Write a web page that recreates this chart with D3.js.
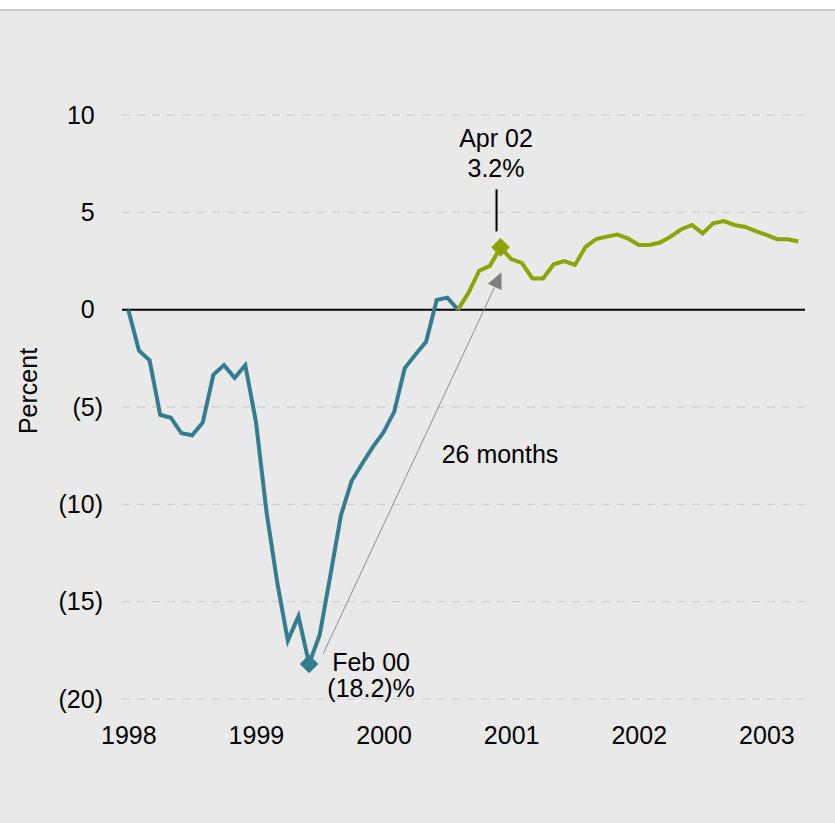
<!DOCTYPE html>
<html>
<head>
<meta charset="utf-8">
<script src="https://cdn.jsdelivr.net/npm/d3@7/dist/d3.min.js"></script>
<style>
  html, body { margin: 0; padding: 0; background: #ffffff; }
  svg { display: block; font-family: "Liberation Sans", Arial, sans-serif; }
</style>
</head>
<body>
<svg id="chart" width="835" height="823"></svg>
<script>
// Monthly change, percent. Index 0 is the first month on the axis.
const declineSeries = [
  0, -2.1, -2.6, -5.4, -5.55, -6.35, -6.45, -5.8, -3.35, -2.85,
  -3.5, -2.85, -5.75, -10.4, -14.0, -17.0, -15.75, -18.2, -16.7, -13.65,
  -10.55, -8.8, -7.9, -7.05, -6.3, -5.25, -3.0, -2.3, -1.65, 0.5,
  0.62, 0
];
const recoveryStart = 31;
const recoverySeries = [
  0, 0.88, 2.0, 2.25, 3.2, 2.6, 2.4, 1.6, 1.6, 2.33,
  2.5, 2.3, 3.23, 3.63, 3.75, 3.86, 3.65, 3.32, 3.32, 3.45,
  3.75, 4.13, 4.35, 3.92, 4.44, 4.55, 4.35, 4.25, 4.04, 3.84,
  3.62, 3.62, 3.5
];
const xTickIndex = [0, 12, 24, 36, 48, 60];
const xTickLabels = ["1998", "1999", "2000", "2001", "2002", "2003"];
const yTicks = [10, 5, 0, -5, -10, -15, -20];
const yTitle = "Percent";
const troughPoint = { index: 17, value: -18.2, lines: ["Feb 00", "(18.2)%"] };
const peakPoint = { index: 35, value: 3.2, lines: ["Apr 02", "3.2%"] };
const spanLabel = "26 months";

const teal = "#347d8f";
const olive = "#8fa300";
const fontSize = 25;

const svg = d3.select("#chart");
const W = 835, H = 823;

// panel background with a thin rule along the top
svg.append("rect").attr("x", 0).attr("y", 0).attr("width", W).attr("height", H).attr("fill", "#ffffff");
svg.append("rect").attr("x", 0).attr("y", 10).attr("width", W).attr("height", H - 10).attr("fill", "#e9e9e9");
svg.append("rect").attr("x", 0).attr("y", 9).attr("width", W).attr("height", 2).attr("fill", "#cbcbcb");

const lastIndex = recoveryStart + recoverySeries.length - 1;
const x = d3.scaleLinear().domain([0, lastIndex]).range([128.3, 798.3]);
const y = d3.scaleLinear().domain([-20, 10]).range([699, 115]);
const gridX0 = 122, gridX1 = 805;

// horizontal gridlines
svg.append("g")
  .selectAll("line")
  .data(yTicks.filter(v => v !== 0))
  .join("line")
  .attr("x1", gridX0).attr("x2", gridX1)
  .attr("y1", d => y(d)).attr("y2", d => y(d))
  .attr("stroke", "#c8c8c8")
  .attr("stroke-width", 1)
  .attr("stroke-dasharray", "8,7");

// y axis labels, negatives in parentheses
const yAxis = d3.axisLeft(y)
  .tickValues(yTicks)
  .tickSize(0)
  .tickPadding(0)
  .tickFormat(d => d < 0 ? "(" + Math.abs(d) + ")" : String(d));
const gy = svg.append("g").attr("transform", "translate(103,0)").call(yAxis);
gy.select(".domain").remove();
gy.selectAll("text")
  .attr("font-size", fontSize)
  .attr("fill", "#000")
  .attr("font-family", "Liberation Sans, Arial, sans-serif")
  .attr("dx", d => d < 0 ? 0 : -8.3);

// x axis labels
const xAxis = d3.axisBottom(x)
  .tickValues(xTickIndex)
  .tickSize(0)
  .tickPadding(0)
  .tickFormat((d, i) => xTickLabels[i]);
const gx = svg.append("g").attr("transform", "translate(0,725)").call(xAxis);
gx.select(".domain").remove();
gx.selectAll("text")
  .attr("font-size", fontSize)
  .attr("fill", "#000")
  .attr("font-family", "Liberation Sans, Arial, sans-serif")
  .attr("dy", 19);

// y axis title
svg.append("text")
  .attr("transform", `translate(37,${(y(0) + y(-10)) / 2 - 16}) rotate(-90)`)
  .attr("text-anchor", "middle")
  .attr("font-size", fontSize)
  .attr("fill", "#000")
  .text(yTitle);

// zero line
svg.append("line")
  .attr("x1", gridX0).attr("x2", gridX1)
  .attr("y1", y(0)).attr("y2", y(0))
  .attr("stroke", "#000").attr("stroke-width", 2);

const line = d3.line().x(d => x(d[0])).y(d => y(d[1]));

svg.append("path")
  .datum(declineSeries.map((v, i) => [i, v]))
  .attr("d", line)
  .attr("fill", "none")
  .attr("stroke", teal)
  .attr("stroke-width", 4)
  .attr("stroke-linejoin", "miter");

svg.append("path")
  .datum(recoverySeries.map((v, i) => [recoveryStart + i, v]))
  .attr("d", line)
  .attr("fill", "none")
  .attr("stroke", olive)
  .attr("stroke-width", 4)
  .attr("stroke-linejoin", "miter");

// trough and peak markers
const diamond = d3.symbol().type(d3.symbolSquare).size(175);
const tx = x(troughPoint.index), ty = y(troughPoint.value);
const px = x(peakPoint.index), py = y(peakPoint.value);

svg.append("path")
  .attr("d", diamond())
  .attr("transform", `translate(${tx},${ty}) rotate(45)`)
  .attr("fill", teal);
svg.append("path")
  .attr("d", diamond())
  .attr("transform", `translate(${px},${py}) rotate(45)`)
  .attr("fill", olive);

// arrow spanning trough to peak
const a0 = [tx + 14, ty - 10];
const a1 = [px + 1, py + 25];
const len = Math.hypot(a1[0] - a0[0], a1[1] - a0[1]);
const ux = (a1[0] - a0[0]) / len, uy = (a1[1] - a0[1]) / len;
const headLen = 16, headHalf = 7.5;
const base = [a1[0] - ux * headLen, a1[1] - uy * headLen];
svg.append("line")
  .attr("x1", a0[0]).attr("y1", a0[1])
  .attr("x2", base[0]).attr("y2", base[1])
  .attr("stroke", "#8c8c8c").attr("stroke-width", 1);
svg.append("path")
  .attr("d", `M${a1[0]},${a1[1]}L${base[0] - uy * headHalf},${base[1] + ux * headHalf}L${base[0] + uy * headHalf},${base[1] - ux * headHalf}Z`)
  .attr("fill", "#7f7f80");

// annotation texts
const ann = svg.append("g").attr("font-size", fontSize).attr("fill", "#000").attr("text-anchor", "middle");
ann.append("text").attr("x", tx + 62).attr("y", ty + 7).text(troughPoint.lines[0]);
ann.append("text").attr("x", tx + 62).attr("y", ty + 33).text(troughPoint.lines[1]);
ann.append("text").attr("x", px - 4.5).attr("y", py - 100).text(peakPoint.lines[0]);
ann.append("text").attr("x", px - 4.5).attr("y", py - 70).text(peakPoint.lines[1]);
ann.append("text").attr("x", 500).attr("y", 463).text(spanLabel);

// leader from peak label to marker
svg.append("line")
  .attr("x1", px - 4).attr("x2", px - 4)
  .attr("y1", py - 58).attr("y2", py - 16)
  .attr("stroke", "#000").attr("stroke-width", 2);
</script>
</body>
</html>
